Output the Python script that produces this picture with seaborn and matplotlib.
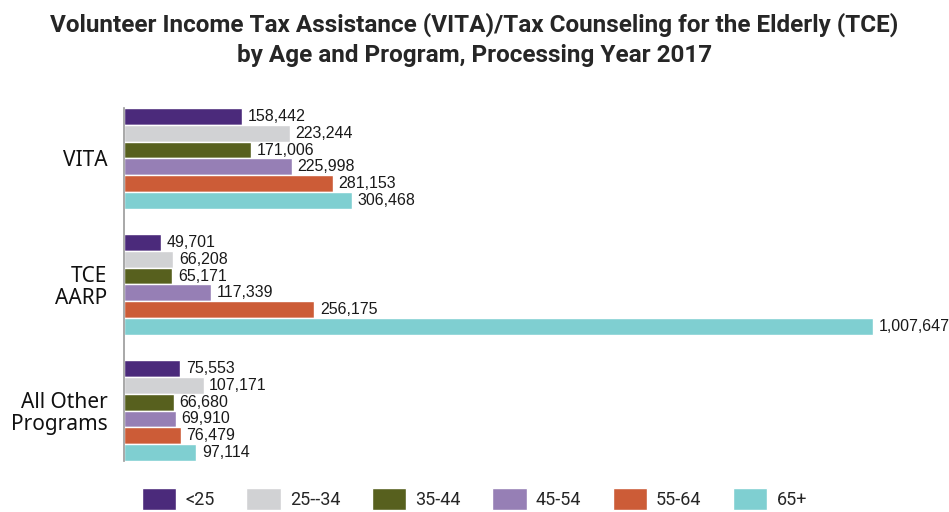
import matplotlib
matplotlib.use('Agg')
import matplotlib.pyplot as plt
from matplotlib import font_manager
import seaborn as sns
import pandas as pd

# Data
programs = ['VITA', 'TCE\nAARP', 'All Other\nPrograms']
age_groups = ['<25', '25--34', '35-44', '45-54', '55-64', '65+']
vita = [158442, 223244, 171006, 225998, 281153, 306468]
tce_aarp = [49701, 66208, 65171, 117339, 256175, 1007647]
other = [75553, 107171, 66680, 69910, 76479, 97114]
colors = ['#4B2A7B', '#D1D2D4', '#57601E', '#967FB5', '#CC5C37', '#7FCFD1']

installed = {f.name for f in font_manager.fontManager.ttflist}
narrow = 'Liberation Sans Narrow' if 'Liberation Sans Narrow' in installed else 'Roboto'

rows = []
for prog, vals in zip(programs, [vita, tce_aarp, other]):
    for age, v in zip(age_groups, vals):
        rows.append({'program': prog, 'age': age, 'count': v})
df = pd.DataFrame(rows)

sns.set_style('white')
plt.rcParams['font.family'] = ['Liberation Sans', 'DejaVu Sans']

fig = plt.figure(figsize=(9.49, 5.12), dpi=100)
ax = fig.add_axes([0.1307, 0.0996, 0.8693, 0.6895])

sns.barplot(data=df, y='program', x='count', hue='age', order=programs,
            hue_order=age_groups, palette=colors, orient='h', width=0.8,
            edgecolor='white', linewidth=1, saturation=1, ax=ax)

for cont in ax.containers:
    ax.bar_label(cont, labels=[f'{v:,.0f}' for v in cont.datavalues],
                 padding=4, fontsize=11.5, color='#1a1a1a')

ax.set_xlim(0, 1110000)
ax.set_ylim(2.4, -0.4)
ax.set_xlabel('')
ax.set_ylabel('')
ax.set_xticks([])
for s in ['top', 'right', 'bottom']:
    ax.spines[s].set_visible(False)
ax.spines['left'].set_color('#999999')
ax.spines['left'].set_linewidth(1.2)
ax.tick_params(axis='y', length=0, pad=12)
for lab in ax.get_yticklabels():
    lab.set_fontfamily(['Noto Sans', 'DejaVu Sans'])
    lab.set_fontsize(15)
    lab.set_linespacing(1.05)
    lab.set_color('#111111')

handles, labels = ax.get_legend_handles_labels()
ax.get_legend().remove()
fig.legend(handles, labels, loc='lower center', bbox_to_anchor=(0.5, 0.0),
           ncol=6, frameon=False, prop={'family': narrow, 'size': 13},
           handlelength=1.9, handleheight=1.5, handletextpad=0.5,
           columnspacing=1.75, borderpad=0.05, borderaxespad=0.05)

fig.text(0.5, 0.975, 'Volunteer Income Tax Assistance (VITA)/Tax Counseling for the Elderly (TCE)\n'
         'by Age and Program, Processing Year 2017',
         ha='center', va='top', fontsize=17.5, fontweight='bold',
         fontfamily=narrow, linespacing=1.35)

fig.savefig('out.png', dpi=100)
